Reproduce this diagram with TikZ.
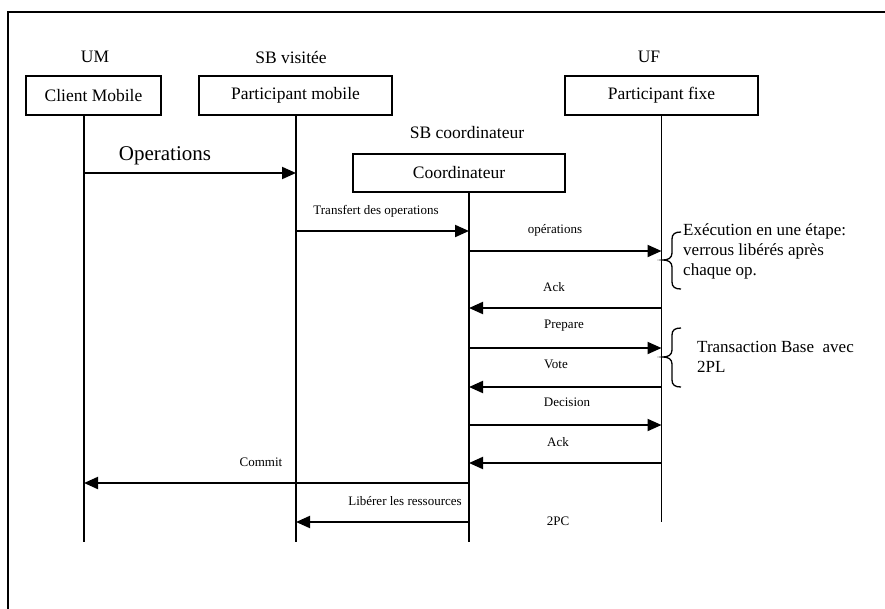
\documentclass[tikz,border=0pt]{standalone}
\usepackage{fontspec}
\setmainfont{Liberation Serif}
\usetikzlibrary{arrows.meta,positioning}

\begin{document}
\begin{tikzpicture}[
  x=1pt, y=-1pt,
  font=\fontsize{17.5}{20}\selectfont,
  acteur/.style={draw, line width=1.5pt, minimum height=39pt, inner sep=0pt},
  role/.style={inner sep=0pt},
  vie/.style={line width=1.4pt},
  msg/.style={line width=2pt, -{Triangle[length=14pt,width=12pt]}},
  lbl/.style={font=\fontsize{13}{15}\selectfont, inner sep=0pt},
  note/.style={align=left, anchor=west, inner sep=2pt, font=\fontsize{17}{20}\selectfont},
  accolade/.style={line width=1.3pt}
]
\useasboundingbox (0,0) rectangle (885,608);

% Cadre
\draw[line width=1.5pt] (895,12) -- (8,12) -- (8,620);

% Acteurs
\node[role] (um) at (95,57) {UM};
\node[acteur, minimum width=135pt] (cm) at (93.5,95.5) {Client Mobile};
\node[role] (sbv) at (291,57) {SB visitée};
\node[acteur, minimum width=193pt] (pm) at (295.5,95.5) {Participant mobile};
\node[role] (sbc) at (467,133) {SB coordinateur};
\node[acteur, minimum width=212pt, minimum height=38pt] (co) at (459,173) {Coordinateur};
\node[role] (uf) at (649,57) {UF};
\node[acteur, minimum width=193pt] (pf) at (661.5,95.5) {Participant fixe};

% Lignes de vie
\coordinate (umfin) at (84,542);
\coordinate (pmfin) at (296,542);
\coordinate (cofin) at (469,542);
\coordinate (pffin) at (661.5,522);
\draw[vie] (cm.south -| umfin) -- (umfin);
\draw[vie] (pm.south -| pmfin) -- (pmfin);
\draw[vie] (co.south -| cofin) -- (cofin);
\draw[vie] (pf.south -| pffin) -- (pffin);

% Messages
\draw[msg] (umfin |- 0,173) -- (pmfin |- 0,173);
\node[inner sep=0pt, font=\fontsize{21}{24}\selectfont] (op) at (165,156) {Operations};
\draw[msg] (pmfin |- 0,231) -- (cofin |- 0,231);
\node[lbl] (tr) at (376,211) {Transfert des operations};
\draw[msg] (cofin |- 0,251) -- (pffin |- 0,251);
\node[lbl] (ops) at (555,230) {opérations};
\draw[msg] (pffin |- 0,308) -- (cofin |- 0,308);
\node[lbl] (ack1) at (554,287) {Ack};
\draw[msg] (cofin |- 0,348) -- (pffin |- 0,348);
\node[lbl] (prep) at (564,326) {Prepare};
\draw[msg] (pffin |- 0,387) -- (cofin |- 0,387);
\node[lbl] (vote) at (556,364) {Vote};
\draw[msg] (cofin |- 0,425) -- (pffin |- 0,425);
\node[lbl] (dec) at (567,402) {Decision};
\draw[msg] (pffin |- 0,463) -- (cofin |- 0,463);
\node[lbl] (ack2) at (558,442) {Ack};
\draw[msg] (cofin |- 0,483) -- (umfin |- 0,483);
\node[lbl] (com) at (261,462) {Commit};
\draw[msg] (cofin |- 0,522) -- (pmfin |- 0,522);
\node[lbl] (lib) at (405,501) {Libérer les ressources};
\node[lbl] (pc) at (558,521) {2PC};

% Accolades
\draw[accolade] (681,232) .. controls (675,232) and (672,234) .. (672,239) -- (672,253)
  .. controls (672,258) and (668,260) .. (663,260) .. controls (668,260) and (672,262) .. (672,267)
  -- (672,282) .. controls (672,287) and (675,289) .. (681,289);
\node[note] (exec) at (681,251) {Exécution en une étape:\\verrous libérés après\\chaque op.};
\draw[accolade] (681,328) .. controls (675,328) and (672,330) .. (672,335) -- (672,350)
  .. controls (672,355) and (668,357) .. (663,357) .. controls (668,357) and (672,359) .. (672,364)
  -- (672,380) .. controls (672,385) and (675,387) .. (681,387);
\node[note] (base) at (695,357) {Transaction Base~~avec\\2PL};

\end{tikzpicture}
\end{document}
